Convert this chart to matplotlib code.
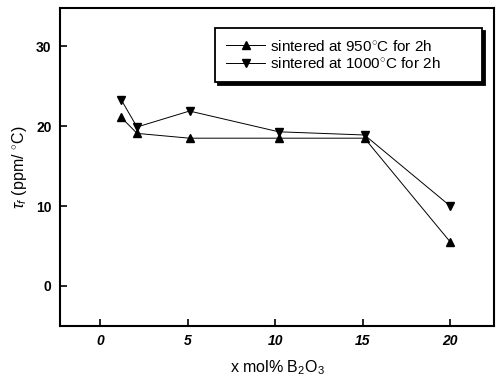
import matplotlib
matplotlib.use("Agg")
import matplotlib.pyplot as plt

plt.rcParams["font.family"] = ["Liberation Sans", "DejaVu Sans"]
plt.rcParams["mathtext.fontset"] = "custom"
plt.rcParams["mathtext.rm"] = "Liberation Sans"
plt.rcParams["mathtext.it"] = "Liberation Sans:italic"

# data
x_950 = [1.2, 2.1, 5.1, 10.2, 15.1, 20.0]
tau_950 = [21.1, 19.1, 18.5, 18.5, 18.5, 5.5]
x_1000 = [1.2, 2.1, 5.1, 10.2, 15.1, 20.0]
tau_1000 = [23.3, 19.9, 21.9, 19.3, 18.9, 10.0]
labels = ["sintered at 950$^{\\circ}$C for 2h", "sintered at 1000$^{\\circ}$C for 2h"]
xticks = [0, 5, 10, 15, 20]
yticks = [0, 10, 20, 30]

fig = plt.figure(figsize=(4.96, 3.82), dpi=100)
ax = fig.add_axes([0.121, 0.147, 0.875, 0.832])

ax.plot(x_950, tau_950, color="black", lw=0.7, marker="^", markersize=6, label=labels[0])
ax.plot(x_1000, tau_1000, color="black", lw=0.7, marker="v", markersize=6, label=labels[1])

ax.set_xlim(-2.3, 22.5)
ax.set_ylim(-5, 34.8)
ax.set_xticks(xticks)
ax.set_yticks(yticks)
ax.set_xticklabels([str(t) for t in xticks], fontsize=10, fontweight="bold", style="italic")
ax.set_yticklabels([str(t) for t in yticks], fontsize=10, fontweight="bold")
ax.tick_params(direction="in", length=5, width=1.2, pad=6)

for s in ax.spines.values():
    s.set_linewidth(1.5)

ax.set_xlabel("x mol% B$_2$O$_3$", fontsize=11.5, labelpad=7)
ax.set_ylabel("$\\tau_f$ (ppm/ $^{\\circ}$C)", fontsize=11.5, labelpad=5)

leg = ax.legend(loc="upper left", bbox_to_anchor=(0.357, 0.78, 0.615, 0.157), mode="expand",
                borderaxespad=0, fontsize=11, frameon=True, fancybox=False,
                shadow={"color": "black", "alpha": 1, "ox": 2, "oy": -2},
                handlelength=2.6, borderpad=0.7, labelspacing=0.15, handletextpad=0.3)
leg.get_frame().set_edgecolor("black")
leg.get_frame().set_linewidth(1.3)

fig.savefig("out.png", dpi=100)
